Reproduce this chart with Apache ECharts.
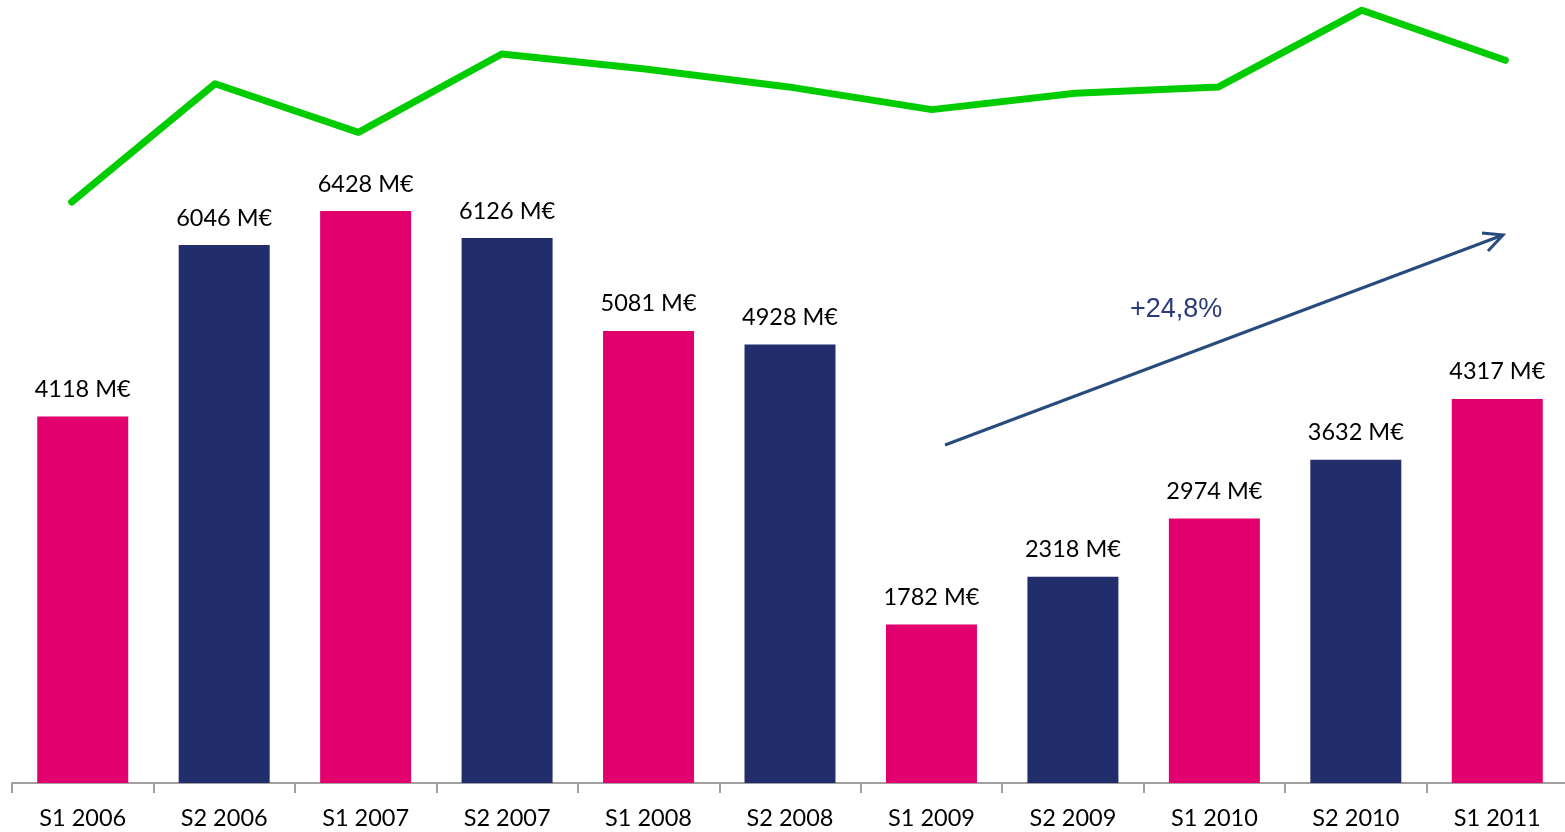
<!DOCTYPE html>
<html>
<head>
    <meta charset="utf-8" />
    <title></title>
    <script src="https://cdn.jsdelivr.net/npm/echarts@6/dist/echarts.min.js"></script>
    <style>
        html, body { margin: 0; padding: 0; background: #fff; }
    </style>
</head>
<body>
    <div id="main" style="width: 1565px;height:832px;"></div>
    <script type="text/javascript">
        var periods = ['S1 2006', 'S2 2006', 'S1 2007', 'S2 2007', 'S1 2008', 'S2 2008', 'S1 2009', 'S2 2009', 'S1 2010', 'S2 2010', 'S1 2011'];
        var volumes = [4118, 6046, 6428, 6126, 5081, 4928, 1782, 2318, 2974, 3632, 4317];
        // courbe verte (indice, echelle cachee)
        var trend = [74.2, 89.3, 83.1, 93.1, 91.2, 88.9, 86.0, 88.1, 88.9, 98.7, 92.3];
        var growthLabel = '+24,8%';

        var pink = '#E2006E';
        var navy = '#222E6C';

        var myChart = echarts.init(document.getElementById('main'));
        var option = {
            animation: false,
            grid: [
                { left: 12, top: 0, width: 1556, bottom: 49, outerBoundsMode: 'none', containLabel: false },
                { left: 0, top: 0, width: 1577, bottom: 49, outerBoundsMode: 'none', containLabel: false }
            ],
            xAxis: [
                {
                    type: 'category',
                    gridIndex: 0,
                    data: periods,
                    axisLine: { lineStyle: { color: '#A0A0A0', width: 2 } },
                    axisTick: { show: true, length: 10, lineStyle: { color: '#A0A0A0', width: 2 } },
                    axisLabel: { color: '#000', fontSize: 23.5, fontFamily: 'Lato', margin: 23 }
                },
                { type: 'category', gridIndex: 1, data: periods, show: false }
            ],
            yAxis: [
                { type: 'value', gridIndex: 0, min: 0, max: 8800, show: false },
                { type: 'value', gridIndex: 1, min: 0, max: 100, show: false }
            ],
            series: [
                {
                    name: 'Volume',
                    type: 'bar',
                    barWidth: 91,
                    data: volumes,
                    itemStyle: {
                        color: function (p) { return p.dataIndex % 2 === 0 ? pink : navy; }
                    },
                    label: {
                        show: true,
                        position: 'top',
                        distance: 15,
                        color: '#000',
                        fontSize: 23.5,
                        fontFamily: 'Lato',
                        formatter: '{c} M€'
                    }
                },
                {
                    name: 'Indice',
                    type: 'line',
                    xAxisIndex: 1,
                    yAxisIndex: 1,
                    data: trend,
                    showSymbol: false,
                    symbol: 'none',
                    lineStyle: { color: '#00CC00', width: 7, cap: 'round', join: 'round' }
                }
            ],
            graphic: [
                {
                    type: 'line',
                    shape: { x1: 945, y1: 445, x2: 1503, y2: 235 },
                    style: { stroke: '#274B7C', lineWidth: 3 }
                },
                {
                    type: 'polyline',
                    shape: { points: [[1482, 233], [1503, 235], [1488, 251]] },
                    style: { stroke: '#274B7C', lineWidth: 3, fill: null, lineJoin: 'miter' }
                },
                {
                    type: 'text',
                    x: 1130,
                    y: 310,
                    style: {
                        text: growthLabel,
                        fill: '#2B3A7A',
                        font: '27px "Liberation Sans", Arial, sans-serif',
                        textVerticalAlign: 'middle',
                        verticalAlign: 'middle'
                    }
                }
            ]
        };
        myChart.setOption(option);
    </script>
</body>
</html>
